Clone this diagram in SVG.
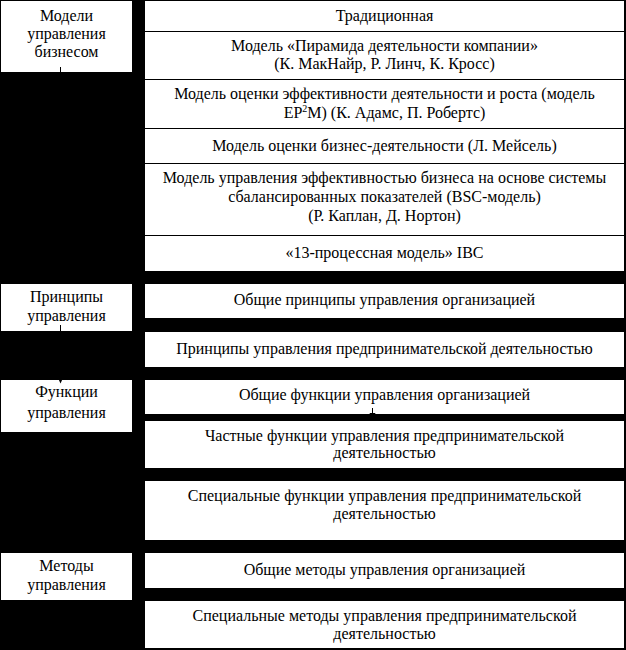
<svg xmlns="http://www.w3.org/2000/svg" width="626" height="650" viewBox="0 0 626 650">
<style>
.bg{fill:#000}
.box{fill:#fff}
text{font-family:'Liberation Serif','Tinos','DejaVu Serif',serif;font-size:16px;fill:#000;text-anchor:middle}
.ln{stroke:#000;stroke-width:1;fill:none}
.hd{fill:#000}
</style>
<rect class="bg" x="0" y="0" width="626" height="650"/>
<g font-family="Liberation Serif, DejaVu Serif, serif">
<g id="left-models"><rect class="box" x="1" y="1" width="131" height="71"/>
<text x="66.5" y="21">Модели</text><text x="66.5" y="39">управления</text><text x="66.5" y="57">бизнесом</text></g>
<g id="left-principles"><rect class="box" x="1" y="284" width="131" height="47"/>
<text x="66.5" y="302">Принципы</text><text x="66.5" y="321">управления</text></g>
<g id="left-functions"><rect class="box" x="1" y="380" width="131" height="52"/>
<text x="66.5" y="397">Функции</text><text x="66.5" y="418">управления</text></g>
<g id="left-methods"><rect class="box" x="1" y="553" width="131" height="47"/>
<text x="66.5" y="571">Методы</text><text x="66.5" y="590">управления</text></g>

<g id="m1"><rect class="box" x="145" y="1" width="479" height="30"/><text x="384.5" y="21">Традиционная</text></g>
<g id="m2"><rect class="box" x="145" y="32" width="479" height="47"/><text x="384.5" y="51">Модель «Пирамида деятельности компании»</text><text x="384.5" y="69">(К. МакНайр, Р. Линч, К. Кросс)</text></g>
<g id="m3"><rect class="box" x="145" y="80" width="479" height="48"/><text x="384.5" y="99">Модель оценки эффективности деятельности и роста (модель</text><text x="384.5" y="118">EP<tspan font-size="10" dy="-6">2</tspan><tspan dy="6">M) (К. Адамс, П. Робертс)</tspan></text></g>
<g id="m4"><rect class="box" x="145" y="129" width="479" height="34"/><text x="384.5" y="151">Модель оценки бизнес-деятельности (Л. Мейсель)</text></g>
<g id="m5"><rect class="box" x="145" y="164" width="479" height="71"/><text x="384.5" y="183">Модель управления эффективностью бизнеса на основе системы</text><text x="384.5" y="202">сбалансированных показателей (BSC-модель)</text><text x="384.5" y="221">(Р. Каплан, Д. Нортон)</text></g>
<g id="m6"><rect class="box" x="145" y="236" width="479" height="35"/><text x="384.5" y="258">«13-процессная модель» IBC</text></g>

<g id="p1"><rect class="box" x="145" y="284" width="479" height="34"/><text x="384.5" y="305">Общие принципы управления организацией</text></g>
<g id="p2"><rect class="box" x="145" y="332" width="479" height="35"/><text x="384.5" y="354">Принципы управления предпринимательской деятельностью</text></g>

<g id="f1"><rect class="box" x="145" y="380" width="479" height="34"/><text x="384.5" y="400">Общие функции управления организацией</text></g>
<g id="f2"><rect class="box" x="145" y="421" width="479" height="47"/><text x="384.5" y="441">Частные функции управления предпринимательской</text><text x="384.5" y="458">деятельностью</text></g>
<g id="f3"><rect class="box" x="145" y="481" width="479" height="59"/><text x="384.5" y="501">Специальные функции управления предпринимательской</text><text x="384.5" y="519">деятельностью</text></g>

<g id="me1"><rect class="box" x="145" y="553" width="479" height="35"/><text x="384.5" y="575">Общие методы управления организацией</text></g>
<g id="me2"><rect class="box" x="145" y="601" width="479" height="47"/><text x="384.5" y="621">Специальные методы управления предпринимательской</text><text x="384.5" y="639">деятельностью</text></g>
</g>
<g id="connectors">
<line class="ln" x1="60.5" y1="67" x2="60.5" y2="284"/>
<line class="ln" x1="60.5" y1="325" x2="60.5" y2="380"/>
<polygon class="hd" points="58.5,379 62.5,379 60.5,383.5"/>
<line class="ln" x1="372.5" y1="408" x2="372.5" y2="416"/>
<polygon class="hd" points="369.5,413 375.5,413 372.5,420"/>
</g>
</svg>
